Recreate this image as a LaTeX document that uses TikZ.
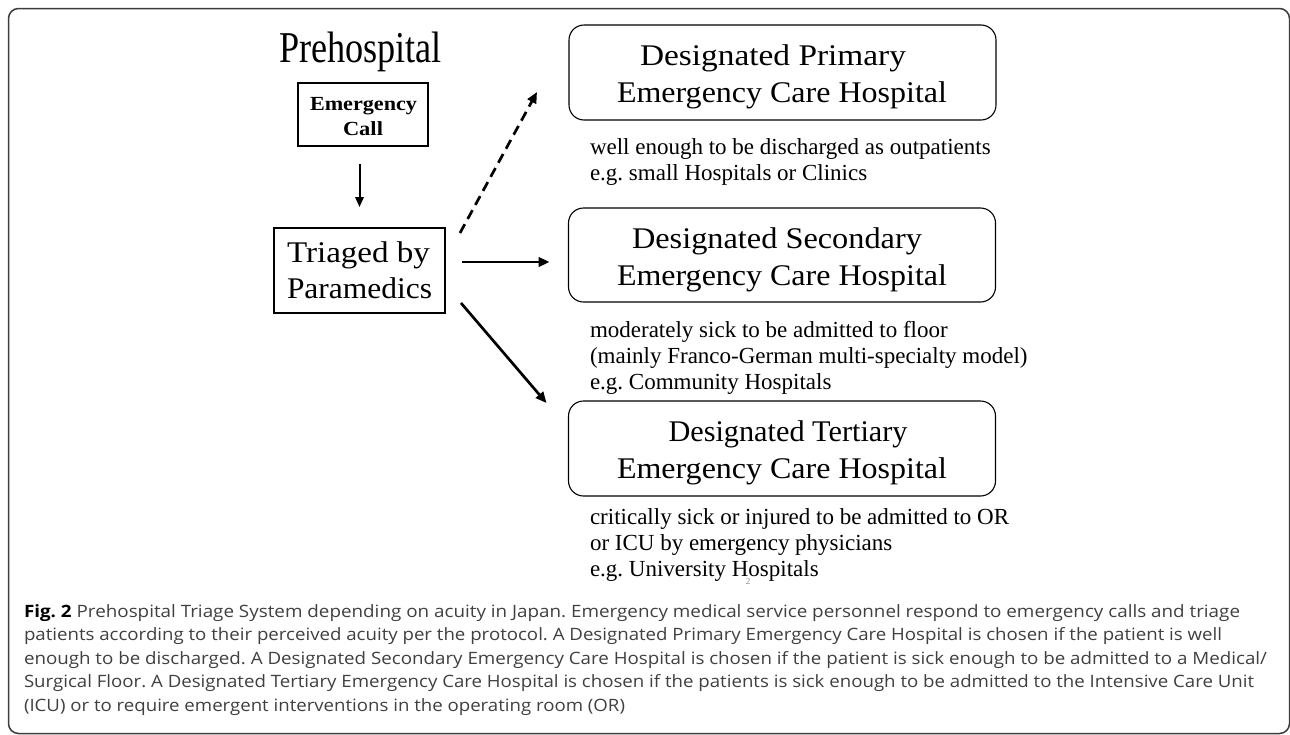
\documentclass[tikz,border=0pt]{standalone}
\usepackage{fontspec}
\setmainfont{Liberation Serif}
\newfontfamily\capfont{Open Sans}
\usetikzlibrary{arrows.meta,calc}
\newcommand\fitw[2]{\resizebox{#1}{\height}{#2}}
\definecolor{capgray}{RGB}{64,64,64}
\definecolor{framegray}{RGB}{60,60,60}
\frenchspacing
\begin{document}
\begin{tikzpicture}[x=1pt,y=-1pt,
  every node/.style={inner sep=0pt, outer sep=0pt},
  sqbox/.style={draw=black, line width=1.1pt, rectangle},
  hbox/.style={draw=black, line width=1.1pt, rectangle, rounded corners=15pt, minimum width=427pt},
  btxt/.style={anchor=base, font=\fontsize{30}{36}\selectfont},
  desc/.style={anchor=base west, font=\fontsize{23}{26}\selectfont},
  captxt/.style={anchor=base west, font=\capfont\fontsize{17}{22}\selectfont, text=capgray},
  arr/.style={line width=2.7pt, -{Triangle[length=11pt,width=9.5pt]}},
  thinarr/.style={line width=2pt, -{Triangle[length=10pt,width=8.5pt]}},
]
\useasboundingbox (0,0) rectangle (1290,734);
\fill[white] (0,0) rectangle (1290,734);
% outer frame
\draw[framegray, line width=1.5pt, rounded corners=10pt] (8.5,8.5) rectangle (1289.5,733.5);

% left column
\node[anchor=base] (pre) at (360.5,62) {\fitw{163pt}{\fontsize{44}{50}\selectfont Prehospital}};
\node[sqbox, minimum width=130pt, minimum height=63pt] (call) at (363,114.5) {};
\node[anchor=base] (callA) at (363.5,110) {\fitw{107pt}{\fontsize{20}{25}\selectfont\bfseries Emergency}};
\node[anchor=base] (callB) at (363,135) {\fitw{40pt}{\fontsize{20}{25}\selectfont\bfseries Call}};

\node[sqbox, minimum width=171pt, minimum height=85pt] (triage) at (359.5,270.5) {};
\node[anchor=base] (triA) at (358.5,262) {\fitw{143pt}{\fontsize{30}{36}\selectfont Triaged by}};
\node[anchor=base] (triB) at (359.5,298) {\fitw{145pt}{\fontsize{30}{36}\selectfont Paramedics}};

% hospital boxes
\node[hbox, minimum height=95pt] (prim) at (782.5,72.5) {};
\node[btxt] (primA) at (773,65) {\fitw{266pt}{Designated Primary}};
\node[btxt] (primB) at (782,102) {\fitw{330pt}{Emergency Care Hospital}};
\node[desc] (primC) at (590,154) {well enough to be discharged as outpatients};
\node[desc] (primD) at (590,180) {e.g. small Hospitals or Clinics};

\node[hbox, minimum height=94pt] (sec) at (782,255) {};
\node[btxt] (secA) at (777,248) {\fitw{290pt}{Designated Secondary}};
\node[btxt] (secB) at (782,285) {\fitw{330pt}{Emergency Care Hospital}};
\node[desc] (secC) at (590,337) {moderately sick to be admitted to floor};
\node[desc] (secD) at (590,363) {(mainly Franco-German multi-specialty model)};
\node[desc] (secE) at (590,389) {e.g. Community Hospitals};

\node[hbox, minimum height=95pt] (ter) at (782,448.5) {};
\node[btxt] (terA) at (788,441) {\fitw{239pt}{Designated Tertiary}};
\node[btxt] (terB) at (782,478) {\fitw{330pt}{Emergency Care Hospital}};
\node[desc] (terC) at (590,524) {critically sick or injured to be admitted to OR};
\node[desc] (terD) at (590,550) {or ICU by emergency physicians};
\node[desc] (terE) at (590,576) {e.g. University Hospitals};
\node[anchor=base, text=black!45, font=\fontsize{9}{10}\selectfont] (pgno) at (748,584) {2};

% connectors
\draw[thinarr, shorten <=18pt, shorten >=21pt] (triage.north |- call.south) -- (triage.north);
\draw[arr, dash pattern=on 10pt off 6pt] ($(triage.north east)+(15,5)$) -- ($(prim.west)+(-32,19.5)$);
\draw[arr] ($(triage.east)+(17,-8.5)$) -- ($(sec.west)+(-19,7)$);
\draw[arr] ($(triage.south east)+(16,-10)$) -- ($(ter.north west)+(-22,2)$);

% caption
\node[captxt] (cap1) at (24,617) {\fitw{1216pt}{\textbf{\color{black}Fig. 2} Prehospital Triage System depending on acuity in Japan. Emergency medical service personnel respond to emergency calls and triage}};
\node[captxt] (cap2) at (24,640.5) {\fitw{1198pt}{patients according to their perceived acuity per the protocol. A Designated Primary Emergency Care Hospital is chosen if the patient is well}};
\node[captxt] (cap3) at (24,664) {\fitw{1243pt}{enough to be discharged. A Designated Secondary Emergency Care Hospital is chosen if the patient is sick enough to be admitted to a Medical/}};
\node[captxt] (cap4) at (24,687.5) {\fitw{1230pt}{Surgical Floor. A Designated Tertiary Emergency Care Hospital is chosen if the patients is sick enough to be admitted to the Intensive Care Unit}};
\node[captxt] (cap5) at (24,711) {\fitw{601pt}{(ICU) or to require emergent interventions in the operating room (OR)}};
\end{tikzpicture}
\end{document}
